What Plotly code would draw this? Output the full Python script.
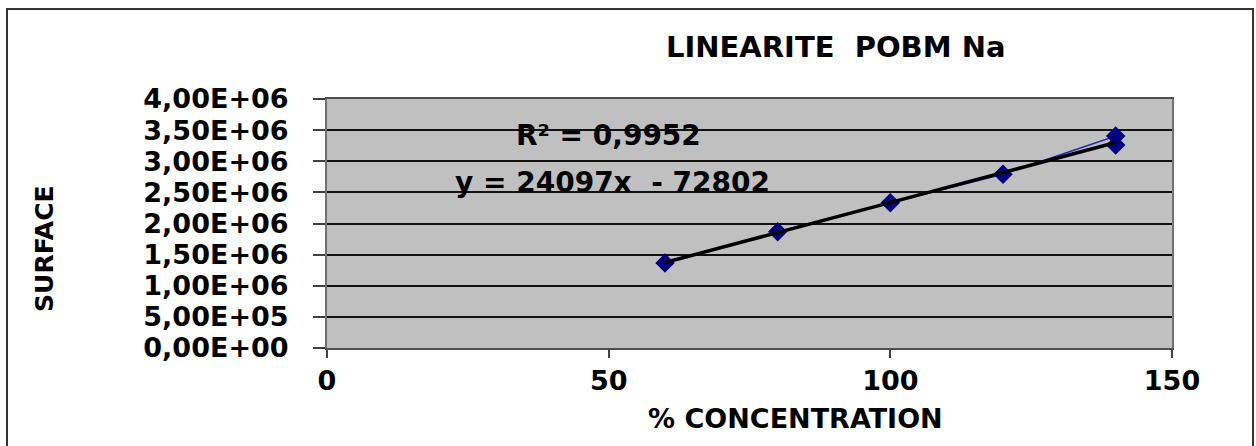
import plotly.graph_objects as go

# ---- data ----
concentration = [60, 80, 100, 120, 140, 140]
surface = [1365000, 1868000, 2334000, 2790000, 3406000, 3261000]
trend_slope = 24097
trend_intercept = -72802
r_squared_label = "R² = 0,9952"
equation_label = "y = 24097x  - 72802"
y_tick_values = [0, 500000, 1000000, 1500000, 2000000, 2500000, 3000000, 3500000, 4000000]
y_tick_labels = ["0,00E+00", "5,00E+05", "1,00E+06", "1,50E+06", "2,00E+06",
                 "2,50E+06", "3,00E+06", "3,50E+06", "4,00E+06"]
x_tick_values = [0, 50, 100, 150]
title_text = "LINEARITE  POBM Na"
x_title = "% CONCENTRATION"
y_title = "SURFACE"

FONT = "DejaVu Sans"

trend_x = [min(concentration), max(concentration)]
trend_y = [trend_slope * v + trend_intercept for v in trend_x]

fig = go.Figure()
fig.add_trace(go.Scatter(
    x=concentration, y=surface, mode="lines+markers",
    line=dict(color="#2424B4", width=1.5),
    marker=dict(symbol="diamond", size=15, color="#000080",
                line=dict(width=0)),
    showlegend=False, hoverinfo="skip"))
fig.add_trace(go.Scatter(
    x=trend_x, y=trend_y, mode="lines",
    line=dict(color="#000000", width=3.5),
    showlegend=False, hoverinfo="skip"))

fig.update_layout(
    width=1256, height=446,
    margin=dict(l=327, r=84, t=99, b=98, pad=0),
    paper_bgcolor="#FFFFFF",
    plot_bgcolor="#C0C0C0",
    font=dict(family=FONT, color="#000000"),
    showlegend=False,
)
fig.update_xaxes(
    range=[0, 150], tickvals=x_tick_values,
    ticks="outside", ticklen=8, tickwidth=1.5, tickcolor="#404040",
    tickfont=dict(family=FONT, size=27, weight="bold", color="#000000"),
    ticklabelstandoff=0,
    showgrid=False, zeroline=False,
    showline=True, linecolor="#505050", linewidth=2, mirror=True,
)
fig.update_yaxes(
    range=[0, 4000000], tickvals=y_tick_values, ticktext=y_tick_labels,
    ticks="outside", ticklen=12, tickwidth=1.5, tickcolor="#404040",
    tickfont=dict(family=FONT, size=27, weight="bold", color="#000000"),
    ticklabelstandoff=19,
    showgrid=True, gridcolor="#111111", gridwidth=1.7,
    zeroline=False,
    showline=True, linecolor="#707070", linewidth=2, mirror=True,
)

annots = [
    dict(text="<b>" + title_text + "</b>", x=0.6024, y=1.2088,
         xref="paper", yref="paper", font=dict(size=29)),
    dict(text="<b>" + x_title + "</b>", x=0.555, y=-0.283,
         xref="paper", yref="paper", font=dict(size=27)),
    dict(text="<b>" + y_title + "</b>", x=-0.335, y=0.4016, textangle=-90,
         xref="paper", yref="paper", font=dict(size=25)),
    dict(text="<b>" + r_squared_label + "</b>", x=49.9, y=3420000,
         xref="x", yref="y", font=dict(size=28)),
    dict(text="<b>" + equation_label + "</b>", x=50.6, y=2660000,
         xref="x", yref="y", font=dict(size=28)),
]
for a in annots:
    a.update(showarrow=False, xanchor="center", yanchor="middle")
    a["font"].update(family=FONT, color="#000000")
    fig.add_annotation(**a)

# outer chart border
fig.add_shape(type="rect", xref="paper", yref="paper",
              x0=(7 - 327) / 845, x1=(1253 - 327) / 845,
              y0=(348 - 470) / 249, y1=(348 - 9) / 249,
              line=dict(color="#333333", width=2), fillcolor="rgba(0,0,0,0)",
              layer="above")

fig.write_html("out.html")
